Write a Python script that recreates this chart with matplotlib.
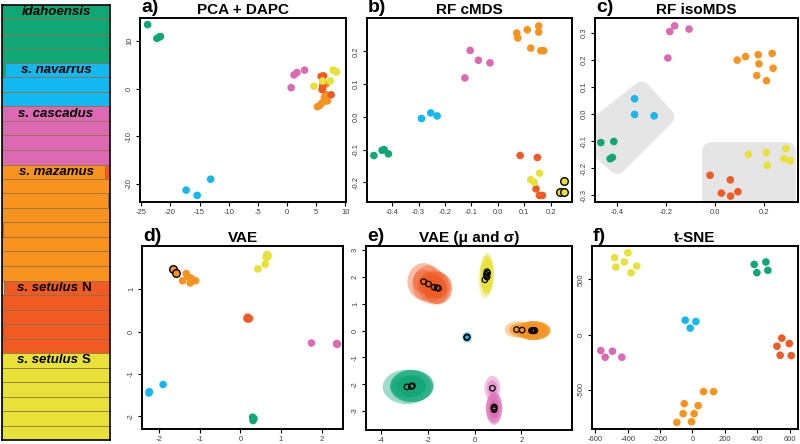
import matplotlib
matplotlib.use('Agg')
import matplotlib.pyplot as plt
from matplotlib.patches import Ellipse, Polygon

plt.rcParams['font.family'] = ['Liberation Sans', 'DejaVu Sans']
plt.rcParams['axes.unicode_minus'] = False

# cluster colours: idahoensis, navarrus, cascadus, mazamus, setulus N, setulus S
colors = ['#0fa776', '#12b8ee', '#dc6ab3', '#f7931e', '#f05a23', '#e8e13a']
group_sizes = [4, 3, 4, 8, 5, 6]
groups = [g for g, n in enumerate(group_sizes) for _ in range(n)]

# ---- admixture bar, columns in drawing order: green, yellow, blue, pink, orange, red
bar_colors = [colors[0], colors[5], colors[1], colors[2], colors[3], colors[4]]
q_rows = [
    [1, 0, 0, 0, 0, 0], [1, 0, 0, 0, 0, 0], [1, 0, 0, 0, 0, 0], [1, 0, 0, 0, 0, 0],
    [0.03, 0, 0.96, 0, 0.01, 0], [0, 0, 1, 0, 0, 0], [0, 0, 1, 0, 0, 0],
    [0, 0, 0, 0.99, 0.01, 0], [0, 0, 0, 1, 0, 0], [0, 0, 0, 1, 0, 0], [0, 0, 0, 1, 0, 0],
    [0, 0, 0, 0, 0.95, 0.05], [0, 0, 0, 0, 0.995, 0.005], [0, 0, 0, 0, 0.98, 0.02],
    [0, 0, 0, 0, 1, 0], [0, 0.01, 0, 0, 0.99, 0], [0, 0, 0, 0, 1, 0],
    [0, 0, 0, 0, 1, 0], [0, 0, 0, 0, 1, 0],
    [0, 0.02, 0, 0, 0, 0.98], [0, 0, 0, 0, 0, 1], [0, 0, 0, 0, 0, 1],
    [0, 0, 0, 0, 0.01, 0.99], [0, 0, 0, 0, 0, 1],
    [0, 1, 0, 0, 0, 0], [0, 1, 0, 0, 0, 0], [0, 1, 0, 0, 0, 0],
    [0, 1, 0, 0, 0, 0], [0, 1, 0, 0, 0, 0], [0, 1, 0, 0, 0, 0],
]
label_rows = [0, 4, 7, 11, 19, 24]
label_italic = ['idahoensis', 's. navarrus', 's. cascadus', 's. mazamus', 's. setulus', 's. setulus']
label_plain = ['', '', '', '', 'N', 'S']

# ---- a) PCA + DAPC
pca_x = [-23.9, -22.3, -21.9, -21.7, -17.3, -15.4, -13.1, 0.7, 1.2, 1.7, 3.0,
         5.2, 5.6, 6.0, 6.9, 6.7, 6.1, 6.7, 6.4, 5.85, 6.25, 6.0, 7.55, 6.1,
         4.6, 6.1, 7.4, 7.9, 8.5, 8.2]
pca_y = [13.5, 10.6, 10.9, 11.0, -21.4, -22.5, -19.1, 0.2, 2.9, 3.4, 3.9,
         -3.8, -3.5, -3.0, -2.6, -1.3, -0.1, 1.0, -1.8, 2.6, 2.7, -0.2, -1.3, 0.6,
         0.5, 1.6, 1.6, 3.9, 3.5, 3.7]

# ---- b) RF cMDS
cmds_x = [-0.469, -0.438, -0.43, -0.414, -0.289, -0.254, -0.23, -0.105, -0.074, -0.03, -0.125,
          0.071, 0.075, 0.111, 0.154, 0.154, 0.124, 0.162, 0.173, 0.084, 0.149, 0.144, 0.157, 0.168,
          0.157, 0.124, 0.137, 0.248, 0.233, 0.248]
cmds_y = [-0.118, -0.102, -0.1, -0.113, -0.005, 0.012, 0.003, 0.203, 0.173, 0.165, 0.119,
          0.256, 0.241, 0.266, 0.278, 0.259, 0.21, 0.202, 0.202, -0.118, -0.124, -0.22, -0.24, -0.24,
          -0.172, -0.192, -0.2, -0.197, -0.23, -0.228]
cmds_marked = [27, 28, 29]

# ---- c) RF isoMDS
iso_x = [-0.467, -0.414, -0.429, -0.42, -0.329, -0.329, -0.249, -0.185, -0.165, -0.106, -0.193,
         0.091, 0.125, 0.177, 0.234, 0.18, 0.238, 0.171, 0.211, -0.02, 0.063, 0.026, 0.064, 0.094,
         0.137, 0.21, 0.291, 0.214, 0.282, 0.309]
iso_y = [-0.105, -0.101, -0.165, -0.16, 0.057, -0.001, -0.006, 0.306, 0.327, 0.315, 0.208,
         0.2, 0.213, 0.22, 0.225, 0.186, 0.17, 0.143, 0.124, -0.226, -0.243, -0.292, -0.303, -0.287,
         -0.149, -0.142, -0.127, -0.189, -0.165, -0.172]
hull1 = [(-0.30, 0.09), (-0.20, -0.01), (-0.40, -0.19), (-0.54, -0.08)]
hull2 = [(-0.022, -0.132), (0.297, -0.132), (0.297, -0.40), (-0.022, -0.40)]

# ---- d) VAE
vae_x = [0.3, 0.32, 0.31, 0.33, -1.91, -2.26, -2.25, 1.75, 2.37, 2.39, 2.38,
         -1.67, -1.58, -1.34, -1.22, -1.11, -1.24, -1.43, -1.3, 0.16, 0.2, 0.18, 0.22, 0.17,
         0.65, 0.67, 0.61, 0.43, 0.68, 0.63]
vae_y = [-2.02, -2.07, -2.1, -2.05, -1.25, -1.45, -1.42, -0.27, -0.29, -0.3, -0.28,
         1.48, 1.39, 1.37, 1.26, 1.2, 1.15, 1.2, 1.3, 0.32, 0.3, 0.34, 0.31, 0.3,
         1.82, 1.76, 1.59, 1.48, 1.8, 1.75]
vae_marked = [11, 12]

# ---- e) VAE (mu and sigma): per-sample mean and sd of the latent distribution
mu_x = [-2.89, -2.69, -2.66, -2.7, -0.33, -0.33, -0.32, 0.76, 0.83, 0.83, 0.83,
        1.79, 2.03, 2.43, 2.48, 2.52, 2.57, 2.55, 2.5, -2.18, -1.97, -1.73, -1.55, -1.6,
        0.53, 0.5, 0.53, 0.44, 0.55, 0.52]
mu_y = [-2.1, -2.07, -2.06, -2.08, -0.25, -0.25, -0.24, -2.15, -2.85, -2.9, -2.95,
        0.04, 0.02, 0.0, 0.0, 0.0, 0.0, 0.01, -0.01, 1.83, 1.74, 1.62, 1.58, 1.6,
        2.2, 2.1, 2.0, 1.9, 2.15, 2.05]
sd_x = [0.45, 0.4, 0.4, 0.4, 0.08, 0.08, 0.08, 0.15, 0.15, 0.15, 0.15,
        0.22, 0.22, 0.3, 0.3, 0.3, 0.3, 0.3, 0.3, 0.3, 0.3, 0.28, 0.26, 0.26,
        0.12, 0.12, 0.12, 0.12, 0.12, 0.12]
sd_y = [0.28, 0.26, 0.26, 0.26, 0.08, 0.08, 0.08, 0.2, 0.25, 0.25, 0.25,
        0.13, 0.13, 0.15, 0.15, 0.15, 0.15, 0.15, 0.15, 0.3, 0.3, 0.28, 0.26, 0.26,
        0.3, 0.3, 0.3, 0.3, 0.3, 0.3]

# ---- f) t-SNE
tsne_x = [381, 453, 397, 465, -45, 21, -14, -566, -494, -539, -436,
          68, 130, -51, 35, -58, 10, -97, -6, 551, 521, 597, 541, 609,
          -481, -399, -420, -344, -473, -379]
tsne_y = [636, 658, 561, 582, 130, 118, 58, -145, -152, -206, -206,
          -518, -518, -627, -645, -718, -718, -797, -791, -33, -106, -82, -188, -191,
          697, 742, 658, 621, 612, 561]

panels = [
    # letter, title, x, y, xlim, ylim, xticks, yticks, marked
    ('a)', 'PCA + DAPC', pca_x, pca_y, (-25.2, 10.1), (-23.9, 14.9),
     [-25, -20, -15, -10, -5, 0, 5, 10], [-20, -10, 0, 10], []),
    ('b)', 'RF cMDS', cmds_x, cmds_y, (-0.495, 0.28), (-0.26, 0.302),
     [-0.4, -0.3, -0.2, -0.1, 0.0, 0.1, 0.2], [-0.2, -0.1, 0.0, 0.1, 0.2], cmds_marked),
    ('c)', 'RF isoMDS', iso_x, iso_y, (-0.491, 0.34), (-0.325, 0.356),
     [-0.4, -0.2, 0.0, 0.2], [-0.3, -0.2, -0.1, 0.0, 0.1, 0.2, 0.3], []),
    ('d)', 'VAE', vae_x, vae_y, (-2.43, 2.53), (-2.3, 2.02),
     [-2, -1, 0, 1, 2], [-2, -1, 0, 1], vae_marked),
    ('e)', 'VAE (\u03bc and \u03c3)', mu_x, mu_y, (-4.64, 4.16), (-3.71, 3.16),
     [-4, -2, 0, 2], [-3, -2, -1, 0, 1, 2, 3], []),
    ('f)', 't-SNE', tsne_x, tsne_y, (-620, 651), (-857, 803),
     [-600, -400, -200, 0, 200, 400, 600], [-500, 0, 500], []),
]
# frame boxes in pixels (left, top, right, bottom)
boxes = [(140, 18, 346, 202), (367, 18, 572, 202), (595, 18, 798, 202),
         (142, 246, 343, 429), (366, 246, 572, 430), (592, 246, 798, 429)]

W, H = 800, 444
fig = plt.figure(figsize=(8, 4.44), dpi=100)


def ax_at(l, t, r, b):
    return fig.add_axes([l / W, 1 - b / H, (r - l) / W, (b - t) / H])


def fmt(v):
    if isinstance(v, float):
        return '%.1f' % v
    return str(v)


# admixture bar
axq = ax_at(2, 5, 110, 440)
for i, q in enumerate(q_rows):
    left = 0
    for c, frac in enumerate(q):
        if frac > 0:
            axq.barh(i, frac, left=left, height=1.0, color=bar_colors[c],
                     edgecolor='#8a6a45', linewidth=0.5)
            left += frac
axq.set_xlim(0, 1)
axq.set_ylim(len(q_rows) - 0.5, -0.5)
axq.set_xticks([])
axq.set_yticks([])
for s in axq.spines.values():
    s.set_linewidth(1.2)
for r, it, pl in zip(label_rows, label_italic, label_plain):
    if pl:
        axq.text(0.70, r, it, ha='right', va='center', fontsize=9.5,
                 fontweight='bold', fontstyle='italic')
        axq.text(0.735, r, pl, ha='left', va='center', fontsize=9.5, fontweight='bold')
    else:
        axq.text(0.5, r, it, ha='center', va='center', fontsize=9.5,
                 fontweight='bold', fontstyle='italic')

for k, (letter, title, xs, ys, xlim, ylim, xt, yt, marked) in enumerate(panels):
    ax = ax_at(*boxes[k])
    if k == 2:
        for hull in (hull1, hull2):
            ax.add_patch(Polygon(hull, closed=True, facecolor='#e5e5e5',
                                 edgecolor='#e5e5e5', linewidth=12,
                                 joinstyle='round', zorder=0))
    if k == 4:
        for i in range(len(xs)):
            c = colors[groups[i]]
            ax.add_patch(Ellipse((xs[i], ys[i]), 4.6 * sd_x[i], 4.6 * sd_y[i],
                                 facecolor=c, edgecolor='none', alpha=0.4, zorder=1))
            ax.add_patch(Ellipse((xs[i], ys[i]), 3.0 * sd_x[i], 3.0 * sd_y[i],
                                 facecolor=c, edgecolor='none', alpha=0.45, zorder=1))
        ax.scatter(xs, ys, s=16, facecolors='none', edgecolors='black',
                   linewidths=0.9, zorder=3)
    else:
        for i in range(len(xs)):
            if i in marked:
                ax.scatter(xs[i], ys[i], s=30, color=colors[groups[i]],
                           edgecolors='black', linewidths=1.0, zorder=3)
            else:
                ax.scatter(xs[i], ys[i], s=30, color=colors[groups[i]],
                           edgecolors='none', zorder=2)
    ax.set_xlim(*xlim)
    ax.set_ylim(*ylim)
    ax.set_xticks(xt)
    ax.set_xticklabels([fmt(v) for v in xt])
    ax.set_yticks(yt)
    ax.set_yticklabels([fmt(v) for v in yt], rotation=90, va='center')
    ax.tick_params(length=3, width=0.8, labelsize=5.5, pad=2, labelcolor='#404040')
    for s in ax.spines.values():
        s.set_linewidth(1.4)
    ax.set_title(title, fontsize=11, fontweight='bold', pad=3)
    l, t, r, b = boxes[k]
    fig.text((l + 1) / W, 1 - (t - 10) / H, letter, fontsize=14,
             fontweight='bold', ha='left', va='center')

fig.savefig('out.png', dpi=100)
